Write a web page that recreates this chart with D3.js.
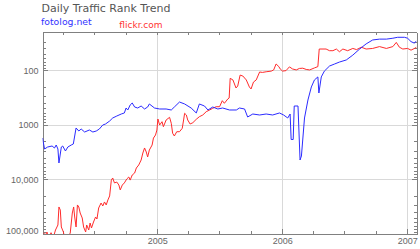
<!DOCTYPE html>
<html>
<head>
<meta charset="utf-8">
<script src="https://cdn.jsdelivr.net/npm/d3@7"></script>
<style>
  body { margin: 0; background: #fff; }
  svg { display: block; font-family: "DejaVu Sans", Verdana, sans-serif; }
  .axis path, .axis line { stroke: #808080; shape-rendering: crispEdges; }
  .axis text { fill: #666; font-size: 9px; }
  .grid line { stroke: #d9d9d9; shape-rendering: crispEdges; }
</style>
</head>
<body>
<div id="chart"></div>
<script>
// Alexa-style daily traffic rank
var fotologDates = [
  "2004-02-01","2004-02-07","2004-02-16","2004-02-29","2004-03-07","2004-03-12","2004-03-17","2004-03-20","2004-03-27","2004-03-31",
  "2004-04-08","2004-04-15","2004-04-25","2004-05-01","2004-05-09","2004-05-17","2004-05-24","2004-06-03","2004-06-17","2004-06-27",
  "2004-07-07","2004-07-16","2004-07-26","2004-08-03","2004-08-15","2004-08-24","2004-09-05","2004-09-18","2004-09-27","2004-10-02",
  "2004-10-07","2004-10-14","2004-10-20","2004-10-27","2004-11-05","2004-11-15","2004-11-25","2004-12-04","2004-12-09","2004-12-24",
  "2005-01-08","2005-01-27","2005-02-11","2005-02-20","2005-03-07","2005-03-22","2005-04-10","2005-04-25","2005-05-04","2005-05-19",
  "2005-05-29","2005-06-12","2005-06-27","2005-07-11","2005-07-31","2005-08-20","2005-08-29","2005-09-13","2005-09-22","2005-10-07",
  "2005-10-27","2005-11-15","2005-12-04","2005-12-24","2006-01-05","2006-01-17","2006-01-24","2006-01-27","2006-02-02","2006-02-05",
  "2006-02-16","2006-02-22","2006-02-26","2006-03-07","2006-03-17","2006-03-27","2006-04-05","2006-04-15","2006-04-18","2006-04-25",
  "2006-05-04","2006-05-19","2006-06-03","2006-06-17","2006-07-07","2006-07-26","2006-08-15","2006-09-03","2006-09-22","2006-10-12",
  "2006-11-01","2006-11-20","2006-12-04","2006-12-24","2007-01-02","2007-01-12","2007-01-22","2007-01-28"
];
var fotologRanks = [
  1746, 2777, 2552, 2447, 2662, 2346, 2777, 5010, 2552, 2447,
  3020, 2552, 2346, 2249, 1145, 1300, 1195, 1356, 1246, 1356,
  1300, 1195, 1009, 968, 853, 751, 691, 635, 608, 493,
  536, 434, 399, 473, 493, 453, 514, 473, 416, 493,
  514, 514, 536, 473, 383, 416, 493, 608, 416, 453,
  536, 473, 514, 493, 536, 536, 493, 514, 720, 635,
  662, 635, 662, 608, 662, 751, 635, 1860, 1860, 453,
  453, 4416, 3729, 751, 352, 203, 151, 133, 262, 133,
  104, 84, 77, 71, 65, 53, 41, 33, 28, 27,
  27, 26, 25, 25, 26, 30, 32, 29
];

var flickrDates = [
  "2004-02-04","2004-02-10","2004-02-14","2004-02-19","2004-02-26","2004-03-03","2004-03-10","2004-03-17","2004-03-20","2004-03-24",
  "2004-03-27","2004-04-02","2004-04-07","2004-04-14","2004-04-22","2004-04-28","2004-05-02","2004-05-05","2004-05-09","2004-05-13",
  "2004-05-17","2004-05-21","2004-05-27","2004-05-31","2004-06-06","2004-06-09","2004-06-15","2004-06-19","2004-06-23","2004-06-29",
  "2004-07-05","2004-07-09","2004-07-14","2004-07-21","2004-07-26","2004-07-31","2004-08-05","2004-08-10","2004-08-15","2004-08-20",
  "2004-08-24","2004-08-29","2004-09-05","2004-09-11","2004-09-15","2004-09-21","2004-09-27","2004-10-04","2004-10-10","2004-10-14",
  "2004-10-20","2004-10-27","2004-11-01","2004-11-08","2004-11-15","2004-11-20","2004-11-25","2004-11-30","2004-12-04","2004-12-09",
  "2004-12-17","2004-12-21","2004-12-27","2004-12-31","2005-01-03","2005-01-08","2005-01-15","2005-01-19","2005-01-27","2005-02-06",
  "2005-02-11","2005-02-15","2005-02-20","2005-02-27","2005-03-07","2005-03-15","2005-03-19","2005-03-22","2005-03-27","2005-03-31",
  "2005-04-07","2005-04-15","2005-04-25","2005-05-04","2005-05-14","2005-05-24","2005-06-03","2005-06-12","2005-06-22","2005-07-02",
  "2005-07-10","2005-07-16","2005-07-26","2005-07-30","2005-08-02","2005-08-10","2005-08-19","2005-08-24","2005-08-31","2005-09-08",
  "2005-09-18","2005-09-27","2005-10-02","2005-10-09","2005-10-17","2005-10-27","2005-11-04","2005-11-15","2005-11-30","2005-12-07",
  "2005-12-14","2005-12-22","2005-12-26","2006-01-02","2006-01-12","2006-01-22","2006-01-31","2006-02-11","2006-02-20","2006-03-02",
  "2006-03-12","2006-03-22","2006-04-05","2006-04-15","2006-04-19","2006-05-09","2006-05-19","2006-05-29","2006-06-08","2006-06-17",
  "2006-06-27","2006-07-11","2006-07-26","2006-08-06","2006-08-20","2006-09-03","2006-09-22","2006-10-12","2006-11-01","2006-11-20",
  "2006-11-30","2006-12-09","2006-12-19","2007-01-02","2007-01-12","2007-01-22","2007-01-28"
];
var flickrRanks = [
  95900, 104300, 91900, 118400, 94700, 118400, 84500, 68400, 32000, 36400,
  74400, 91900, 128800, 118400, 95900, 41300, 32000, 48800, 74400, 29400,
  32000, 41300, 50900, 74400, 91900, 68400, 84500, 62900, 77600, 60300,
  48800, 53100, 33400, 27100, 30700, 25900, 29400, 23800, 20100, 10300,
  9430, 11600, 11200, 12700, 15600, 12700, 11600, 9840, 9040, 10300,
  8310, 7640, 6190, 5450, 4420, 3290, 2660, 3150, 3890, 2900,
  2350, 1750, 1540, 1250, 784, 1010, 878, 1084, 817, 730,
  940, 1432, 1605, 1339, 1339, 1160, 817, 616, 662, 817,
  968, 916, 794, 711, 662, 576, 536, 499, 467, 467,
  362, 404, 337, 323, 141, 151, 212, 195, 123, 128,
  151, 203, 221, 165, 151, 108, 110, 107, 104, 99,
  77, 86, 95, 104, 102, 87, 95, 99, 93, 92,
  97, 99, 91, 86, 41, 41, 44, 44, 41, 46,
  41, 44, 40, 42, 38, 41, 40, 37, 40, 37,
  31, 38, 41, 40, 43, 40, 38
];

var yearTicks = ["2005-01-01", "2006-01-01", "2007-01-01"];
var yearLabels = ["2005", "2006", "2007"];
var rankTicks = [100, 1000, 10000, 100000];
var rankLabels = ["100", "1000", "10,000", "100,000"];
var gridRanks = [100, 1000, 10000];

var width = 420,
    height = 249,
    plot_left = 42.5,
    plot_right = 416.5,
    plot_top = 32,
    plot_bottom = 234;

var parse = d3.timeParse("%Y-%m-%d");

var x = d3.scaleTime()
    .domain([parse("2004-02-01"), parse("2007-01-28")])
    .range([plot_left, plot_right]);

var y = d3.scaleLog()
    .domain([20, 100000])
    .range([plot_top, plot_bottom]);

var svg = d3.select("#chart").append("svg")
    .attr("width", width)
    .attr("height", height);

svg.append("defs").append("clipPath")
    .attr("id", "plot-clip")
    .append("rect")
    .attr("x", plot_left)
    .attr("y", plot_top)
    .attr("width", plot_right - plot_left)
    .attr("height", plot_bottom - plot_top);

// gridlines
var grid = svg.append("g").attr("class", "grid");
grid.selectAll(".vgrid")
    .data(yearTicks.map(parse))
    .enter().append("line")
    .attr("x1", function (d) { return Math.round(x(d)) + 0.5; })
    .attr("x2", function (d) { return Math.round(x(d)) + 0.5; })
    .attr("y1", plot_top)
    .attr("y2", plot_bottom)
    .style("stroke-width", 1.5);
grid.selectAll(".hgrid")
    .data(gridRanks)
    .enter().append("line")
    .attr("x1", plot_left)
    .attr("x2", plot_right)
    .attr("y1", function (d) { return Math.round(y(d)) + 0.5; })
    .attr("y2", function (d) { return Math.round(y(d)) + 0.5; })
    .style("stroke-width", 1.5);

// minor rank ticks: 2..9 within each decade
var minorRanks = [];
[10, 100, 1000, 10000].forEach(function (decade) {
  d3.range(2, 10).forEach(function (m) {
    var v = decade * m;
    if (v >= 20 && v < 100000 && rankTicks.indexOf(v) < 0) minorRanks.push(v);
  });
});

var quarterTicks = x.ticks(d3.timeMonth.every(3));

// bottom axis
svg.append("g").attr("class", "axis")
    .attr("transform", "translate(0," + plot_bottom + ")")
    .call(d3.axisBottom(x).tickValues(quarterTicks).tickSize(-3).tickSizeOuter(0).tickFormat(""));
svg.append("g").attr("class", "axis")
    .attr("transform", "translate(0," + plot_bottom + ")")
    .call(d3.axisBottom(x).tickValues(yearTicks.map(parse)).tickSize(-5).tickSizeOuter(0)
        .tickPadding(4)
        .tickFormat(function (d, i) { return yearLabels[i]; }));

// top axis
svg.append("g").attr("class", "axis")
    .attr("transform", "translate(0," + plot_top + ")")
    .call(d3.axisTop(x).tickValues(quarterTicks).tickSize(-3).tickSizeOuter(0).tickFormat(""));

// left axis
svg.append("g").attr("class", "axis")
    .attr("transform", "translate(" + plot_left + ",0)")
    .call(d3.axisLeft(y).tickValues(minorRanks).tickSize(-3).tickSizeOuter(0).tickFormat(""));
var leftMajor = svg.append("g").attr("class", "axis")
    .attr("transform", "translate(" + plot_left + ",0)")
    .call(d3.axisLeft(y).tickValues(rankTicks).tickSize(-5).tickSizeOuter(0)
        .tickPadding(4)
        .tickFormat(function (d, i) { return rankLabels[i]; }));
// keep the bottom label inside the picture, as in the original
leftMajor.selectAll(".tick text")
    .filter(function (d) { return d === 100000; })
    .attr("dy", "-0.1em");

// right axis
svg.append("g").attr("class", "axis")
    .attr("transform", "translate(" + plot_right + ",0)")
    .call(d3.axisRight(y).tickValues(minorRanks).tickSize(-3).tickSizeOuter(0).tickFormat(""));
svg.append("g").attr("class", "axis")
    .attr("transform", "translate(" + plot_right + ",0)")
    .call(d3.axisRight(y).tickValues(rankTicks).tickSize(-5).tickSizeOuter(0).tickFormat(""));

// series
var line = d3.line()
    .x(function (d) { return x(d.date); })
    .y(function (d) { return y(d.rank); });

function series(dates, ranks) {
  return dates.map(function (d, i) {
    return {date: parse(d), rank: ranks[i]};
  });
}

var lines = svg.append("g").attr("clip-path", "url(#plot-clip)");
lines.append("path")
    .datum(series(flickrDates, flickrRanks))
    .attr("fill", "none")
    .attr("stroke", "#ff2b2b")
    .attr("stroke-width", 1)
    .attr("d", line);
lines.append("path")
    .datum(series(fotologDates, fotologRanks))
    .attr("fill", "none")
    .attr("stroke", "#2b2bff")
    .attr("stroke-width", 1)
    .attr("d", line);

// title and legend
svg.append("text")
    .attr("x", 41.5)
    .attr("y", 11.7)
    .style("font-size", "11px")
    .style("fill", "#555")
    .text("Daily Traffic Rank Trend");
svg.append("text")
    .attr("x", 41)
    .attr("y", 25)
    .style("font-size", "9.3px")
    .style("fill", "#3333ff")
    .text("fotolog.net");
svg.append("text")
    .attr("x", 119.3)
    .attr("y", 27.7)
    .style("font-size", "9px")
    .style("fill", "#ff3333")
    .text("flickr.com");
</script>
</body>
</html>
